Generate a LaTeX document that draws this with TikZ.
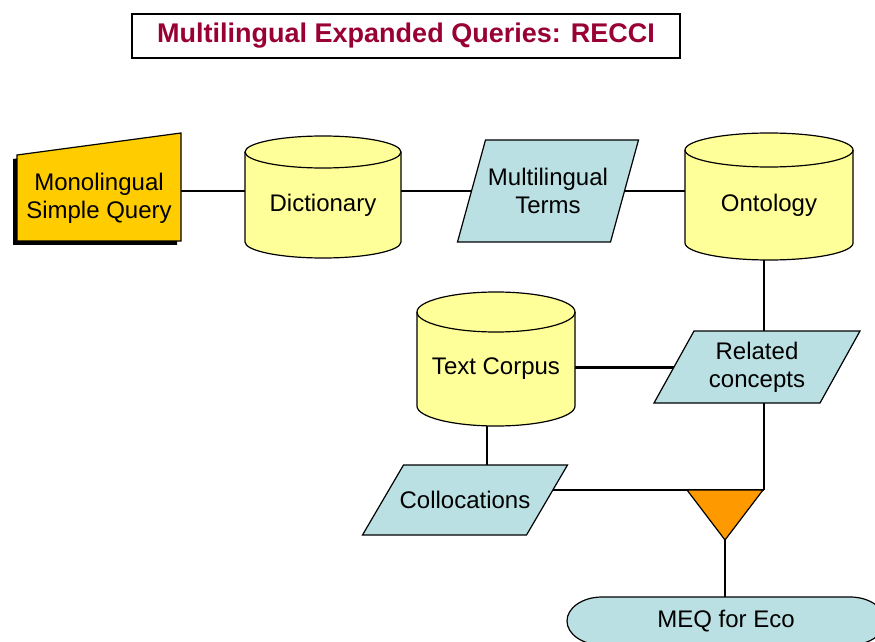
\documentclass[tikz,border=0pt]{standalone}
\usepackage{fontspec}
\setmainfont{Liberation Sans}
\usetikzlibrary{calc}
\pgfdeclarelayer{bg}
\pgfsetlayers{bg,main}
\definecolor{titlered}{HTML}{990033}
\definecolor{goldq}{HTML}{FFCC00}
\definecolor{cylyellow}{HTML}{FFFF99}
\definecolor{parablue}{HTML}{BBE0E3}
\definecolor{mergeorange}{HTML}{FF9900}
\tikzset{
  outline/.style={draw=black, line width=1.2pt},
  cylstyle/.style={outline, fill=cylyellow},
  parastyle/.style={outline, fill=parablue},
  conn/.style={draw=black, line width=1.2pt},
  thickconn/.style={draw=black, line width=3pt},
  txt/.style={inner sep=0, align=center}
}
\newcommand{\dbcyl}[7]{%
  \filldraw[cylstyle] (#2,{#5-#6}) -- (#2,{#3+#6})
    arc[start angle=180,end angle=360,x radius={(#4-#2)/2},y radius=#6]
    -- (#4,{#5-#6})
    arc[start angle=0,end angle=180,x radius={(#4-#2)/2},y radius=#6] -- cycle;
  \draw[outline] (#2,{#5-#6}) arc[start angle=180,end angle=360,x radius={(#4-#2)/2},y radius=#6];
  \node[inner sep=0,minimum width={(#4-#2)*1pt},minimum height={(#5-#3)*1pt}] (#1) at ({(#2+#4)/2},{(#3+#5)/2}) {};
  \node[txt] (#1text) at ({(#2+#4)/2},{(#3+#5)/2-#6/2}) {#7};
}
\newcommand{\parabox}[7]{%
  \filldraw[parastyle] ({#2-#4/2-#6/2},{#3-#5/2}) -- ({#2-#4/2+#6/2},{#3+#5/2})
    -- ({#2+#4/2+#6/2},{#3+#5/2}) -- ({#2+#4/2-#6/2},{#3-#5/2}) -- cycle;
  \node[txt, minimum width={#4*1pt}, minimum height={#5*1pt}] (#1) at (#2,#3) {#7};
}
\begin{document}
\begin{tikzpicture}[x=1pt,y=1pt,font=\fontsize{24}{28}\selectfont]
\useasboundingbox (0,0) rectangle (875,641);
\clip (0,0) rectangle (875,641);

% title
\node[draw=black, line width=1.5pt, minimum width=548pt, minimum height=44pt, inner sep=0,
      text=titlered, font=\bfseries\fontsize{27}{30}\selectfont] (title) at (406,605)
      {Multilingual Expanded Queries: RECCI};

% monolingual simple query (manual input with shadow)
\fill[black] (13,396) -- (13,482) -- (177,504) -- (177,396) -- cycle;
\filldraw[outline, fill=goldq] (17,400) -- (17,486) -- (181,508) -- (181,400) -- cycle;
\node[txt, minimum width=164pt, minimum height=86pt] (mono) at (99,443) {Monolingual\\Simple Query};

% cylinders
\dbcyl{dict}{245}{383}{401}{505}{16}{Dictionary}
\dbcyl{onto}{685}{381}{853}{508}{17}{Ontology}
\dbcyl{corpus}{417}{215}{575}{349}{20}{Text Corpus}

% parallelograms
\parabox{terms}{548}{450}{153}{102}{28}{Multilingual\\Terms}
\parabox{related}{757}{274}{166}{72}{40}{Related\\concepts}
\parabox{colloc}{465}{141}{164}{70}{41}{Collocations}

% merge triangle
\filldraw[outline, fill=mergeorange] (687,151) -- (763,151) -- (725,101) -- cycle;
\coordinate (mergetip) at (725,101);
\coordinate (junc) at (764,151);
\coordinate (vline) at (764,0);
\coordinate (cline) at (487,0);

% MEQ terminator
\filldraw[parastyle] (602,44) -- (850,44) arc[start angle=90,end angle=-90,x radius=35,y radius=24]
  -- (602,-4) arc[start angle=270,end angle=90,x radius=35,y radius=24] -- cycle;
\node[txt, minimum width=318pt, minimum height=48pt] (meq) at (726,20) {MEQ for Eco};

% connectors
\begin{pgfonlayer}{bg}
\draw[conn] (mono.east |- terms.west) -- (dict.west |- terms.west);
\draw[conn] (dict.east |- terms.west) -- (terms.west);
\draw[conn] (terms.east) -- (onto.west |- terms.west);
\draw[conn] (onto.south -| vline) -- (related.north -| vline);
\draw[thickconn] (related.west -| corpus.east) -- (related.west);
\draw[conn] (corpus.south -| cline) -- (colloc.north -| cline);
\draw[conn] (related.south -| vline) -- (junc);
\draw[conn] (colloc.east |- junc) -- (junc);
\draw[conn] (mergetip) -- (mergetip |- meq.north);
\end{pgfonlayer}
\end{tikzpicture}
\end{document}
